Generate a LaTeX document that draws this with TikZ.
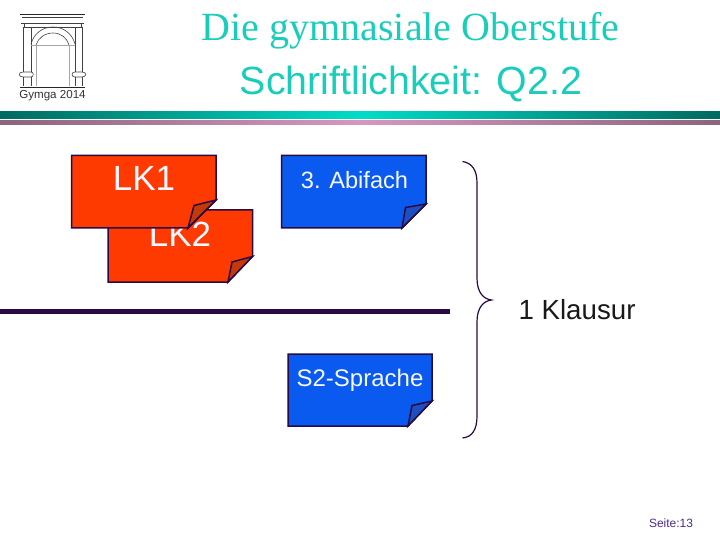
\documentclass[tikz,border=0pt]{standalone}
\usepackage{fontspec}
\setmainfont{Liberation Sans}
\newfontfamily\titlefont{Liberation Serif}
\usepackage{xcolor}
\usepackage{tikz}
\definecolor{titlecol}{HTML}{1ACDBB}
\definecolor{darkline}{HTML}{2A0A45}
\definecolor{lkred}{HTML}{FF3A00}
\definecolor{lkfold}{HTML}{C23A08}
\definecolor{abiblue}{HTML}{0A5AF0}
\definecolor{abifold}{HTML}{1E4FC0}
\definecolor{papertext}{HTML}{F5F8FF}
\definecolor{seitecol}{HTML}{4B2A8C}
\definecolor{tealdark}{HTML}{006A60}
\definecolor{teallight}{HTML}{00DCC8}
\definecolor{mauvedark}{HTML}{8C647D}
\definecolor{mauvelight}{HTML}{D796C3}

\begin{document}
\begin{tikzpicture}[x=1pt,y=-1pt]
\tikzset{paper/.style={line width=1.5pt,color=darkline},
         papertxt/.style={anchor=base,text=papertext},
         logoline/.style={line width=0.6pt,color=black!75},
         logothin/.style={line width=0.5pt,color=black!35}}
\useasboundingbox (0,0) rectangle (720,540);
% Title
\node[anchor=base,text=titlecol,font=\titlefont\fontsize{40}{40}\selectfont] (title) at (410.5,41){Die gymnasiale Oberstufe};
\node[anchor=base,text=titlecol,font=\fontsize{39.3}{40}\selectfont] (subtitle) at (411,95){Schriftlichkeit: Q2.2};
% Rules under the title
\shade[left color=tealdark,right color=teallight](0,112) rectangle (360,119);
\shade[left color=teallight,right color=tealdark](360,112) rectangle (720,119);
\shade[left color=mauvedark,right color=mauvelight](0,121) rectangle (360,125);
\shade[left color=mauvelight,right color=mauvedark](360,121) rectangle (720,125);
% Logo
\draw[line width=1pt,color=black!85](20,15)--(85,15);
\draw[logoline](22,17)--(83,17);
\draw[logoline](21,23)--(84,23)(24,23)--(24,27)--(81,27)--(81,23);
\draw[logoline](23.5,27)--(23.5,72)(31,27)--(31,72);
\draw[logoline](75,27)--(75,72)(82,27)--(82,72);
\draw[logoline](23,72) .. controls (18,72) and (18,77) .. (23,77)--(31,77) .. controls (34,77) and (34,72) .. (31,72)--cycle;
\draw[logoline](75,72) .. controls (71,72) and (71,77) .. (75,77)--(82,77) .. controls (87,77) and (87,72) .. (82,72)--cycle;
\draw[logoline](23.5,77)--(23.5,86)(31,77)--(31,86)(75,77)--(75,86)(82,77)--(82,86);
\draw[logoline](31,44) .. controls (34,33) and (43,27) .. (53,27) .. controls (63,27) and (72,33) .. (75,44);
\draw[logoline](36,45) .. controls (38,38) and (45,33) .. (53,33) .. controls (61,33) and (67,38) .. (69,45);
\draw[logothin](31,45)--(75,45)(36,45)--(36,86)(69,45)--(69,86);
\draw[line width=0.8pt,color=black!85](20,87)--(85,87);
\node[anchor=base,text=black!80,font=\fontsize{11.6}{12}\selectfont] (logotext) at (52.5,99){Gymga 2014};
% Middle line
\draw[line width=5.5pt,color=darkline](0,311.5)--(450,311.5);
% LK2
\filldraw[paper,fill=lkred](108,210)--(252.5,210)--(252.5,256.5)--(228,282)--(108,282)--cycle;
\filldraw[paper,fill=lkfold](228,282)--(232,262)--(252.5,256.5)--cycle;
\node[papertxt,font=\fontsize{35}{35}\selectfont] (lktwo) at (180,247){LK2};
% LK1
\filldraw[paper,fill=lkred](71.5,155.5)--(216,155.5)--(216,200)--(188,228)--(71.5,228)--cycle;
\filldraw[paper,fill=lkfold](188,228)--(194,205.5)--(216,200)--cycle;
\node[papertxt,font=\fontsize{35}{35}\selectfont] (lkone) at (144,191){LK1};
% 3. Abifach
\filldraw[paper,fill=abiblue](281.5,155.5)--(426,155.5)--(426,204)--(402,228)--(281.5,228)--cycle;
\filldraw[paper,fill=abifold](402,228)--(405.5,207.5)--(426,204)--cycle;
\node[papertxt,font=\fontsize{23.6}{24}\selectfont] (abifach) at (354.5,188.5){3. Abifach};
% S2-Sprache
\filldraw[paper,fill=abiblue](288,354)--(432,354)--(432,401)--(408,426)--(288,426)--cycle;
\filldraw[paper,fill=abifold](408,426)--(412,405.5)--(432,401)--cycle;
\node[papertxt,font=\fontsize{24}{24}\selectfont] (sprache) at (360,386){S2-Sprache};
% Brace
\draw[line width=1.2pt,color=darkline](462.5,161.5) .. controls (472,163) and (477,170) .. (477,183)
  --(477,278) .. controls (477,292) and (483,299) .. (491.5,300)
  .. controls (483,301) and (477,308) .. (477,322)
  --(477,416) .. controls (477,430) and (472,437) .. (462.5,438);
\node[anchor=base west,text=black!90,font=\fontsize{27.7}{28}\selectfont] (klausur) at (515,319){1 Klausur};
% Page number
\node[anchor=base west,text=seitecol,font=\fontsize{12}{12}\selectfont] (seite) at (645.5,527){Seite:13};
\end{tikzpicture}
\end{document}
